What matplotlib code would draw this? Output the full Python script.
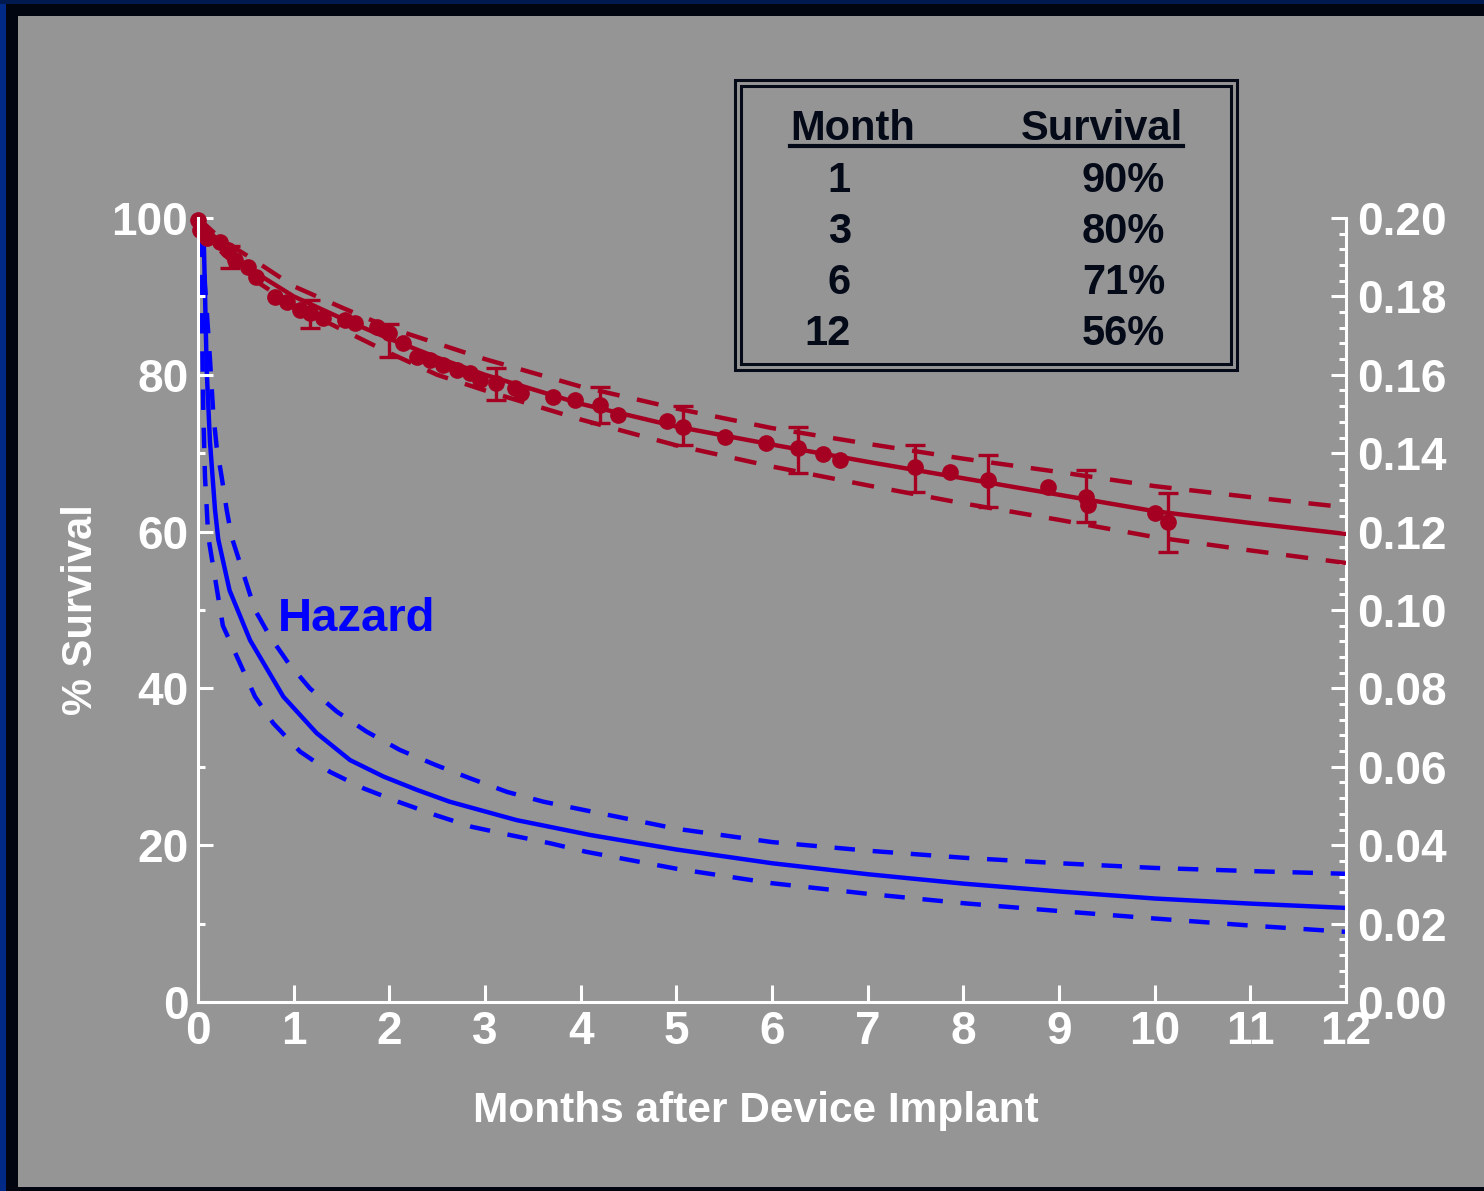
import numpy as np
import matplotlib.pyplot as plt
from matplotlib.patches import Rectangle
from matplotlib.lines import Line2D
from matplotlib.ticker import MultipleLocator

plt.rcParams['font.family'] = ['Liberation Sans', 'DejaVu Sans']
plt.rcParams['font.weight'] = 'bold'

# Survival fit and confidence limits (% survival)
fit_months = [0, 0.25, 0.5, 1, 1.5, 2, 2.5, 3, 4, 5, 6, 7, 8, 9, 10, 11, 12]
fit_surv = [100, 96.5, 93.8, 90.0, 87.2, 84.6, 82.2, 80.0, 76.3, 73.4, 71.1, 68.9, 66.8, 64.7, 62.6, 61.1, 59.7]
fit_upper = [100, 97.2, 95.3, 91.3, 88.6, 86.0, 84.0, 82.0, 78.5, 75.7, 73.2, 71.2, 69.3, 67.6, 65.8, 64.4, 63.1]
fit_lower = [100, 95.6, 92.8, 88.8, 85.8, 82.8, 80.0, 78.0, 74.3, 71.0, 68.3, 65.9, 63.6, 61.5, 59.3, 57.6, 56.0]

# Observed (Kaplan-Meier) points
obs_months = [0.00, 0.02, 0.09, 0.23, 0.31, 0.39, 0.52, 0.61, 0.80, 0.93, 1.07, 1.17, 1.31,
              1.54, 1.64, 1.87, 2.00, 2.14, 2.29, 2.43, 2.56, 2.71, 2.84, 2.95, 3.12, 3.31,
              3.38, 3.71, 3.94, 4.20, 4.39, 4.90, 5.07, 5.51, 5.94, 6.27, 6.53, 6.71, 7.49,
              7.86, 8.26, 8.88, 9.28, 9.30, 10.00, 10.14]
obs_surv = [99.7, 98.5, 97.4, 96.9, 95.9, 94.6, 93.8, 92.5, 89.9, 89.3, 88.3, 87.9, 87.2,
            87.0, 86.6, 86.1, 85.3, 84.1, 82.3, 81.9, 81.2, 80.6, 80.2, 79.3, 79.0, 78.3,
            77.7, 77.2, 76.8, 76.1, 74.9, 74.1, 73.4, 72.1, 71.3, 70.7, 69.9, 69.1, 68.3,
            67.6, 66.6, 65.7, 64.4, 63.4, 62.4, 61.2]

# Error bars on selected points
err_months = [0.33, 1.17, 2.00, 3.12, 4.20, 5.07, 6.27, 7.49, 8.26, 9.28, 10.14]
err_surv = [95.0, 87.9, 85.3, 79.0, 76.1, 73.4, 70.7, 68.3, 66.6, 64.4, 61.2]
err_lo = [93.6, 86.0, 82.3, 76.8, 73.9, 71.0, 67.5, 65.1, 63.1, 61.2, 57.4]
err_hi = [96.4, 89.5, 86.5, 80.9, 78.4, 76.0, 73.3, 71.1, 69.8, 67.9, 64.9]

# Hazard function and confidence limits (per month)
haz_months = [0.045, 0.055, 0.073, 0.091, 0.125, 0.178, 0.212, 0.33, 0.544, 0.892, 1.24,
              1.59, 1.94, 2.29, 2.63, 3.33, 4.10, 5, 6, 7, 8, 9, 10, 11, 12]
haz = [0.215, 0.200, 0.181, 0.161, 0.143, 0.1255, 0.118, 0.105, 0.0923, 0.0779, 0.0686,
       0.0617, 0.0575, 0.0541, 0.0511, 0.0464, 0.0426, 0.0389, 0.0354, 0.0326, 0.0302,
       0.0282, 0.0264, 0.0251, 0.0240]
hazu_months = [0.045, 0.055, 0.073, 0.091, 0.125, 0.16, 0.195, 0.247, 0.30, 0.352, 0.596,
               0.753, 0.944, 1.17, 1.45, 1.76, 2.11, 2.48, 2.84, 3.23, 3.61, 4.03, 5, 6, 7,
               8, 9, 10, 11, 12]
haz_upper = [0.205, 0.192, 0.183, 0.1765, 0.164, 0.150, 0.1416, 0.134, 0.1255, 0.1186, 0.100,
             0.0932, 0.0865, 0.080, 0.0741, 0.069, 0.0643, 0.0605, 0.0571, 0.0536, 0.0511,
             0.049, 0.0442, 0.0408, 0.0386, 0.0368, 0.0354, 0.0342, 0.0334, 0.0327]
hazl_months = [0.03, 0.038, 0.055, 0.073, 0.108, 0.26, 0.596, 0.787, 1.066, 1.38, 1.73,
               2.09, 2.48, 2.86, 3.26, 3.68, 4.06, 5, 6, 7, 8, 9, 10, 11, 12]
haz_lower = [0.205, 0.179, 0.151, 0.134, 0.1186, 0.096, 0.0779, 0.0711, 0.0639, 0.0587,
             0.0545, 0.0511, 0.0477, 0.0447, 0.0426, 0.0405, 0.0383, 0.0340, 0.0303, 0.0276,
             0.0252, 0.0232, 0.0213, 0.0195, 0.0179]

# Summary table
table_months = ['1', '3', '6', '12']
table_surv = ['90%', '80%', '71%', '56%']

RED = '#a50021'
BLUE = '#0000ff'
GRAY = '#959595'
INK = '#050a19'
W, H = 1484, 1191

fig = plt.figure(figsize=(W / 100, H / 100), dpi=100, facecolor='#00050f')
# panel background and the blue edges of the slide
fig.patches.append(Rectangle((18 / W, 4 / H), 1 - 18 / W, 1 - 20 / H, transform=fig.transFigure,
                             facecolor=GRAY, edgecolor='none', zorder=-10))
fig.patches.append(Rectangle((0, 0), 6 / W, 1, transform=fig.transFigure,
                             facecolor='#002a85', edgecolor='none', zorder=-9))
fig.patches.append(Rectangle((0, 1 - 4 / H), 1, 4 / H, transform=fig.transFigure,
                             facecolor='#001a50', edgecolor='none', zorder=-9))

ax = fig.add_axes([198 / W, 1 - 1002 / H, (1346 - 198) / W, (1002 - 218) / H])
ax2 = ax.twinx()
ax.set_zorder(ax2.get_zorder() + 1)
ax.patch.set_visible(False)
ax2.patch.set_visible(False)

# hazard
ax2.plot(haz_months, haz, color=BLUE, lw=3.2)
ax2.plot(hazu_months, haz_upper, color=BLUE, lw=3.2, ls=(0, (4.6, 4.0)))
ax2.plot(hazl_months, haz_lower, color=BLUE, lw=3.2, ls=(0, (4.6, 4.0)))
ax2.set_ylim(0, 0.20)

# survival
ax.plot(fit_months, fit_surv, color=RED, lw=3.2)
ax.plot(fit_months, fit_upper, color=RED, lw=3.2, ls=(0, (5.0, 4.0)))
ax.plot(fit_months, fit_lower, color=RED, lw=3.2, ls=(0, (5.0, 4.0)))
ax.errorbar(err_months, err_surv,
            yerr=[np.subtract(err_surv, err_lo), np.subtract(err_hi, err_surv)],
            fmt='none', ecolor=RED, elinewidth=2.4, capsize=7, capthick=2.4)
ax.plot(obs_months, obs_surv, 'o', color=RED, ms=11, clip_on=False)
ax.set_xlim(0, 12)
ax.set_ylim(0, 100)

for a in (ax, ax2):
    for s in a.spines.values():
        s.set_visible(False)
ax.spines['left'].set_visible(True)
ax.spines['bottom'].set_visible(True)
ax2.spines['right'].set_visible(True)
for s in (ax.spines['left'], ax.spines['bottom'], ax2.spines['right']):
    s.set_color('white')
    s.set_linewidth(2.2)

ax.set_xticks(range(0, 13))
ax.set_yticks(range(0, 101, 20))
ax.yaxis.set_minor_locator(MultipleLocator(10))
ax2.set_yticks(np.arange(0, 0.201, 0.02))
ax2.set_yticklabels(['%.2f' % v for v in np.arange(0, 0.201, 0.02)])
ax2.yaxis.set_minor_locator(MultipleLocator(0.004))

ax.tick_params(axis='x', which='major', direction='in', length=12, width=2.2,
               colors='white', labelsize=33, pad=6)
ax.tick_params(axis='y', which='major', direction='in', length=11, width=2.2,
               colors='white', labelsize=33, pad=7)
ax.tick_params(axis='y', which='minor', direction='in', length=5, width=2.2, colors='white')
ax2.tick_params(axis='y', which='major', direction='in', length=11, width=2.2,
                colors='white', labelsize=33, pad=8)
ax2.tick_params(axis='y', which='minor', direction='in', length=5, width=2.2, colors='white')
for lab in ax.get_xticklabels() + ax.get_yticklabels() + ax2.get_yticklabels():
    lab.set_fontweight('bold')

fig.text(756 / W, 1 - 1111 / H, 'Months after Device Implant', color='white',
         fontsize=30.5, fontweight='bold', ha='center', va='center')
fig.text(81 / W, 1 - 610 / H, '% Survival', color='white', fontsize=30,
         fontweight='bold', ha='center', va='center', rotation=90)
fig.text(278 / W, 1 - 619 / H, 'Hazard', color=BLUE, fontsize=34,
         fontweight='bold', ha='left', va='center')

# table box with double border
fig.patches.append(Rectangle((735 / W, 1 - 370 / H), (1237 - 735) / W, (370 - 80) / H,
                             transform=fig.transFigure, fill=False, edgecolor=INK, lw=2.2))
fig.patches.append(Rectangle((741 / W, 1 - 364 / H), (1231 - 741) / W, (364 - 86) / H,
                             transform=fig.transFigure, fill=False, edgecolor=INK, lw=2.2))
fig.text(790 / W, 1 - 140 / H, 'Month', color=INK, fontsize=30, fontweight='bold',
         ha='left', va='baseline')
fig.text(1183 / W, 1 - 140 / H, 'Survival', color=INK, fontsize=30, fontweight='bold',
         ha='right', va='baseline')
fig.lines.append(Line2D([790 / W, 1183 / W], [1 - 146 / H, 1 - 146 / H],
                        transform=fig.transFigure, color=INK, lw=3))
for i, (m, s) in enumerate(zip(table_months, table_surv)):
    yb = 1 - (192 + 51 * i) / H
    fig.text(851 / W, yb, m, color=INK, fontsize=30, fontweight='bold', ha='right', va='baseline')
    fig.text(1165 / W, yb, s, color=INK, fontsize=30, fontweight='bold', ha='right', va='baseline')

fig.savefig('out.png', dpi=100, facecolor=fig.get_facecolor())
plt.close(fig)
